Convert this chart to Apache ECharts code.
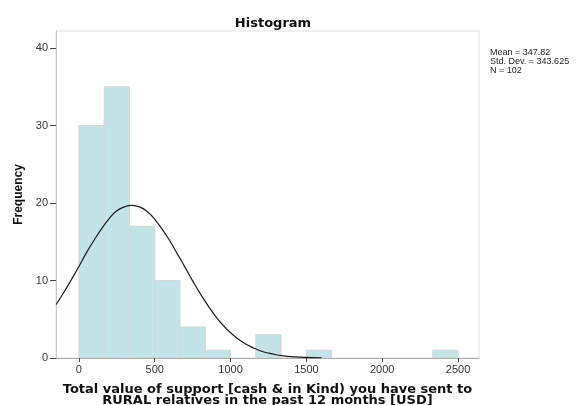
<!DOCTYPE html>
<html>
<head>
<meta charset="utf-8">
<script src="https://cdn.jsdelivr.net/npm/echarts@6/dist/echarts.min.js"></script>
<style>
  html, body { margin: 0; padding: 0; background: #fff; }
  #chart { width: 585px; height: 405px; }
</style>
</head>
<body>
<div id="chart"></div>
<script>
// histogram bins (USD) and frequencies
var binLo = [0, 166.67, 333.33, 500, 666.67, 833.33, 1000, 1166.67, 1333.33, 1500, 1666.67, 1833.33, 2000, 2166.67, 2333.33];
var binHi = [166.67, 333.33, 500, 666.67, 833.33, 1000, 1166.67, 1333.33, 1500, 1666.67, 1833.33, 2000, 2166.67, 2333.33, 2500];
var binCount = [30, 35, 17, 10, 4, 1, 0, 3, 0, 1, 0, 0, 0, 0, 1];

// normal curve
var curveX = [-150, -100, -50, 0, 50, 100, 150, 200, 250, 300, 350, 400, 450, 500, 550, 600, 650, 700, 750, 800, 850, 900, 950, 1000, 1050, 1100, 1150, 1200, 1250, 1300, 1350, 1400, 1450, 1500, 1550, 1600];
var curveY = [6.9, 8.45, 10.1, 11.8, 13.6, 15.2, 16.7, 18.0, 19.0, 19.5, 19.7, 19.5, 18.9, 17.9, 16.6, 15.1, 13.4, 11.7, 9.95, 8.3, 6.8, 5.4, 4.25, 3.26, 2.45, 1.8, 1.3, 0.91, 0.63, 0.42, 0.28, 0.18, 0.12, 0.07, 0.04, 0.02];

var xTicks = [0, 500, 1000, 1500, 2000, 2500];
var yTicks = [0, 10, 20, 30, 40];
var statsLines = ['Mean = 347.82', 'Std. Dev. = 343.625', 'N = 102'];

var chart = echarts.init(document.getElementById('chart'));

var barData = binLo.map(function (lo, i) { return [lo, binHi[i], binCount[i]]; });
var lineData = curveX.map(function (x, i) { return [x, curveY[i]]; });

var font = '"Liberation Sans", Arial, sans-serif';
var boldFont = '"DejaVu Sans", sans-serif';

chart.setOption({
  animation: false,
  textStyle: { fontFamily: font },
  title: {
    text: 'Histogram',
    left: 268,
    top: 12,
    textAlign: 'center',
    textStyle: { fontSize: 13, fontWeight: 'bold', color: '#111', fontFamily: boldFont }
  },
  grid: {
    left: 56, right: 106, top: 31, bottom: 47,
    outerBoundsMode: 'none',
    containLabel: false,
    show: true, borderColor: '#e2e2e2', borderWidth: 1
  },
  xAxis: {
    type: 'value',
    min: -151,
    max: 2638,
    name: 'Total value of support [cash & in Kind) you have sent to\nRURAL relatives in the past 12 months [USD]',
    nameLocation: 'middle',
    nameGap: 26,
    nameTextStyle: { fontSize: 13, fontWeight: 'bold', color: '#111', lineHeight: 11, fontFamily: boldFont },
    axisLine: { onZero: false, lineStyle: { color: '#aaa', width: 1 } },
    axisTick: { show: true, length: 4, customValues: xTicks, lineStyle: { color: '#444' } },
    axisLabel: {
      customValues: xTicks, fontSize: 11, color: '#333', margin: 6,
      formatter: function (v) { return String(v); }
    },
    splitLine: { show: false }
  },
  yAxis: {
    type: 'value',
    min: 0,
    max: 42.2,
    name: 'Frequency',
    nameLocation: 'middle',
    nameRotate: 90,
    nameGap: 31,
    nameTextStyle: { fontSize: 12, fontWeight: 'bold', color: '#111', fontFamily: font },
    axisLine: { show: true, onZero: false, lineStyle: { color: '#c8c8c8', width: 1 } },
    axisTick: { show: true, length: 6, customValues: yTicks, lineStyle: { color: '#444' } },
    axisLabel: { customValues: yTicks, fontSize: 11, color: '#333', margin: 8 },
    splitLine: { show: false }
  },
  graphic: [{
    type: 'text',
    left: 490,
    top: 48,
    style: {
      text: statsLines.join('\n'),
      font: '9px ' + font,
      lineHeight: 9,
      fill: '#222'
    }
  }],
  series: [{
    type: 'custom',
    data: barData,
    encode: { x: [0, 1], y: 2 },
    clip: true,
    renderItem: function (params, api) {
      var p0 = api.coord([api.value(0), api.value(2)]);
      var p1 = api.coord([api.value(1), 0]);
      if (api.value(2) === 0) return null;
      return {
        type: 'rect',
        shape: { x: p0[0], y: p0[1], width: p1[0] - p0[0], height: p1[1] - p0[1] },
        style: { fill: '#c2e4e8', stroke: '#d6d6d6', lineWidth: 1 }
      };
    },
    z: 2
  }, {
    type: 'line',
    data: lineData,
    smooth: true,
    showSymbol: false,
    clip: true,
    lineStyle: { color: '#1a1a1a', width: 1.2 },
    z: 3
  }]
});
</script>
</body>
</html>
